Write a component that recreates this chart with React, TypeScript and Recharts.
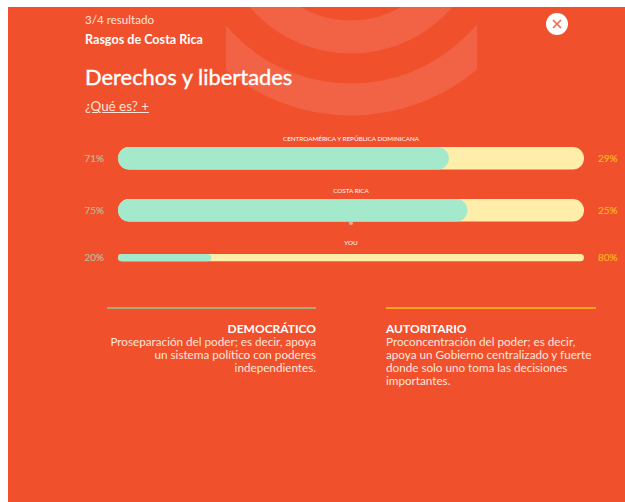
import { BarChart, Bar, XAxis, YAxis, LabelList } from 'recharts'

const rowNames = ['CENTROAMÉRICA Y REPÚBLICA DOMINICANA', 'COSTA RICA', 'YOU']
const democratico = [71, 75, 20]
const autoritario = [29, 25, 80]

const BAR_TOPS = [146, 198, 254]
const BAR_SIZES = [25, 25, 8]
const NAME_TOPS = [135, 187, 239]
const PAD = 12

const demoLines = ['Proseparación del poder; es decir, apoya', 'un sistema político con poderes', 'independientes.']
const autoLines = ['Proconcentración del poder; es decir,', 'apoya un Gobierno centralizado y fuerte', 'donde solo uno toma las decisiones', 'importantes.']

const FONT = 'Lato, sans-serif'
const ORANGE = '#f1502d'
const GREEN = '#a5e9cc'
const YELLOW = '#ffeeaa'

function Row({ index }: { index: number }) {
  const size = BAR_SIZES[index]
  const data = [{
    name: rowNames[index],
    dem: democratico[index],
    aut: autoritario[index],
    total: democratico[index] + autoritario[index],
  }]
  return (
    <div style={{ position: 'absolute', left: 68, top: BAR_TOPS[index] - PAD, width: 566 }}>
      <BarChart
        width={566}
        height={size + PAD * 2}
        data={data}
        layout="vertical"
        margin={{ top: PAD, right: 50, bottom: PAD, left: 50 }}
        barSize={size}
      >
        <XAxis type="number" domain={[0, 100]} hide />
        {/* un eje por barra para que se superpongan */}
        <YAxis yAxisId="pista" type="category" dataKey="name" hide />
        <YAxis yAxisId="verde" type="category" dataKey="name" hide />
        <Bar yAxisId="pista" dataKey="total" fill={YELLOW} radius={size / 2} isAnimationActive={false}>
          <LabelList
            dataKey="aut"
            position="right"
            offset={14}
            formatter={(v: any) => `${v}%`}
            style={{ fill: '#fbb01f', stroke: '#fbb01f', strokeWidth: 0.2, fontSize: 10, fontFamily: FONT }}
          />
        </Bar>
        <Bar yAxisId="verde" dataKey="dem" fill={GREEN} radius={size / 2} isAnimationActive={false}>
          <LabelList
            dataKey="dem"
            position="left"
            offset={14}
            formatter={(v: any) => `${v}%`}
            style={{ fill: '#b5bd8e', stroke: '#b5bd8e', strokeWidth: 0.2, fontSize: 10, fontFamily: FONT }}
          />
        </Bar>
      </BarChart>
    </div>
  )
}

export default function App() {
  return (
    <div style={{ position: 'absolute', left: 0, top: 0, width: 625, height: 502, background: '#fff', overflow: 'hidden', fontFamily: FONT }}>
      <div style={{ position: 'absolute', left: 8, top: 7, width: 617, height: 495, background: ORANGE }} />

      <svg width={625} height={502} style={{ position: 'absolute', left: 0, top: 0 }}>
        <defs>
          <clipPath id="marca">
            <rect x={226} y={7} width={251} height={120} />
          </clipPath>
        </defs>
        <g clipPath="url(#marca)" fill="none" stroke="#f16344">
          <circle cx={351} cy={-80} r={179.5} strokeWidth={32} />
          <circle cx={351} cy={-80} r={117} strokeWidth={33} />
        </g>
        <circle cx={557} cy={24} r={11} fill="#fff" />
        <path d="M553 20 L561 28 M561 20 L553 28" stroke="#f26647" strokeWidth={1.6} />
      </svg>

      <div style={{ position: 'absolute', left: 85, top: 13, fontSize: 11.6, lineHeight: '14px', color: '#fde3d8' }}>3/4 resultado</div>
      <div style={{ position: 'absolute', left: 85, top: 33, fontSize: 12.6, lineHeight: '14px', fontWeight: 700, color: '#fff' }}>Rasgos de Costa Rica</div>
      <div style={{ position: 'absolute', left: 85, top: 63, fontSize: 21.9, lineHeight: '28px', color: '#fff', WebkitTextStroke: '0.4px #fff' }}>Derechos y libertades</div>
      <div style={{ position: 'absolute', left: 85, top: 99, fontSize: 13.4, lineHeight: '15px', color: '#fde3d8', textDecoration: 'underline' }}>¿Qué es? +</div>

      {rowNames.map((name, i) => (
        <div key={name} style={{ position: 'absolute', left: 118, width: 466, top: NAME_TOPS[i], textAlign: 'center', fontSize: 6.3, lineHeight: '8px', color: '#fff' }}>
          {name}
        </div>
      ))}

      {rowNames.map((_, i) => <Row key={i} index={i} />)}

      <div style={{ position: 'absolute', left: 349, top: 221, width: 4, height: 4, borderRadius: 2, background: '#d8b8a0' }} />

      <div style={{ position: 'absolute', left: 107, top: 307, width: 209, height: 2, background: '#a9a97a' }} />
      <div style={{ position: 'absolute', left: 386, top: 307, width: 210, height: 2, background: '#f9a51f' }} />

      <div style={{ position: 'absolute', left: 107, top: 322, width: 209, textAlign: 'right', color: '#fff', fontSize: 11.7, lineHeight: '13px' }}>
        <div style={{ fontWeight: 700, fontSize: 12 }}>DEMOCRÁTICO</div>
        {demoLines.map(l => <div key={l} style={{ color: '#ffe6dc' }}>{l}</div>)}
      </div>
      <div style={{ position: 'absolute', left: 386, top: 322, width: 225, color: '#fff', fontSize: 11.7, lineHeight: '13px' }}>
        <div style={{ fontWeight: 700, fontSize: 12 }}>AUTORITARIO</div>
        {autoLines.map(l => <div key={l} style={{ color: '#ffe6dc' }}>{l}</div>)}
      </div>
    </div>
  )
}
